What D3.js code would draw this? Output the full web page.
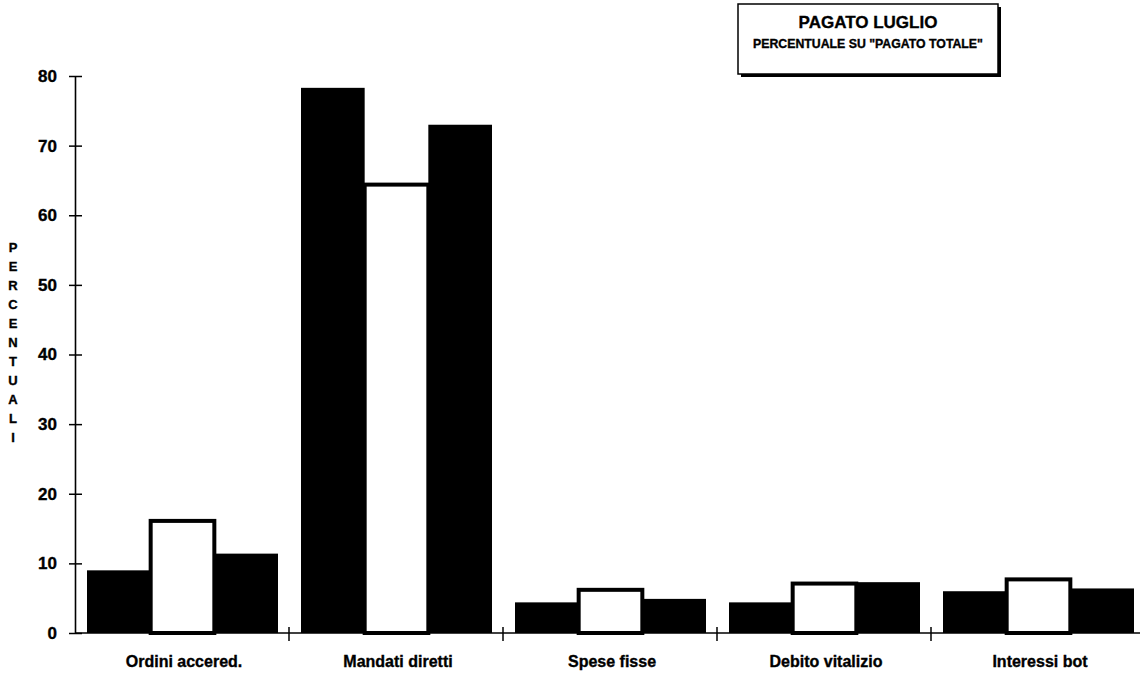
<!DOCTYPE html>
<html>
<head>
<meta charset="utf-8">
<script src="https://cdn.jsdelivr.net/npm/d3@7"></script>
<style>
  html, body { margin: 0; padding: 0; background: #fff; }
  svg { display: block; font-family: "Liberation Sans", Arial, sans-serif; font-weight: bold; }
  svg text { stroke: #000; stroke-width: 0.35px; fill: #000; }
</style>
</head>
<body>
<div id="chart"></div>
<script>
// chart values
const categories = ["Ordini accered.", "Mandati diretti", "Spese fisse", "Debito vitalizio", "Interessi bot"];
const seriesNames = ["a", "b", "c"];
const seriesA = [9.0, 78.3, 4.4, 4.4, 6.0];   // black, left
const seriesB = [16.1, 64.4, 6.2, 7.1, 7.7];  // white, middle
const seriesC = [11.4, 73.0, 4.9, 7.3, 6.4];  // black, right
const yTicks = [0, 10, 20, 30, 40, 50, 60, 70, 80];
const yLabel = "PERCENTUALI";
const title = "PAGATO LUGLIO";
const subtitle = "PERCENTUALE SU \"PAGATO TOTALE\"";

const W = 1140, H = 676;
const svg = d3.select('#chart').append('svg')
    .attr('width', W)
    .attr('height', H);

const x = d3.scaleBand().domain(categories).range([75, 1145]).padding(0);
const xs = d3.scaleBand().domain(seriesNames).range([12, 203]).padding(0);
const y = d3.scaleLinear().domain([0, 80]).range([633, 76]);

const fills = { a: '#000', b: '#fff', c: '#000' };
const rows = categories.map((c, i) => ({ cat: c, a: seriesA[i], b: seriesB[i], c: seriesC[i] }));

// bars: black ones first, then the outlined white one on top
const groups = svg.append('g').attr('class', 'bars')
    .selectAll('g')
    .data(rows)
    .enter().append('g')
    .attr('transform', d => 'translate(' + x(d.cat) + ',0)');

['a', 'c', 'b'].forEach(s => {
    groups.append('rect')
        .attr('x', xs(s))
        .attr('width', xs.bandwidth())
        .attr('y', d => y(d[s]))
        .attr('height', d => y(0) - y(d[s]))
        .style('fill', fills[s])
        .style('stroke', s === 'b' ? '#000' : 'none')
        .style('stroke-width', '4px');
});

// y axis with ticks crossing the line
const yAxis = svg.append('g')
    .attr('transform', 'translate(75,0)')
    .call(d3.axisLeft(y).tickValues(yTicks).tickSizeOuter(0).tickPadding(12));
yAxis.select('.domain').style('stroke', '#000').style('stroke-width', '1.6px');
yAxis.selectAll('.tick line').attr('x1', -6).attr('x2', 7).style('stroke-width', '1.5px');
yAxis.selectAll('.tick text')
    .style('font-size', '17px')
    .style('font-weight', 'bold')
    .style('font-family', '"Liberation Sans", Arial, sans-serif')
    .style('fill', '#000');

// x axis: baseline, ticks at category boundaries, labels under each group
svg.append('line')
    .attr('x1', 75).attr('x2', W)
    .attr('y1', y(0)).attr('y2', y(0))
    .style('stroke', '#000')
    .style('stroke-width', '1.6px');

svg.append('g').attr('class', 'xticks')
    .selectAll('line')
    .data(categories.slice(1))
    .enter().append('line')
    .attr('x1', d => x(d)).attr('x2', d => x(d))
    .attr('y1', y(0) - 6).attr('y2', y(0) + 8)
    .style('stroke', '#000')
    .style('stroke-width', '1.5px');

svg.append('g').attr('class', 'xlabels')
    .selectAll('text')
    .data(categories)
    .enter().append('text')
    .attr('x', d => x(d) + x.bandwidth() / 2 + 2)
    .attr('y', 667)
    .attr('text-anchor', 'middle')
    .style('font-size', '16px')
    .text(d => d);

// stacked vertical axis title
svg.append('g').attr('class', 'ylabel')
    .selectAll('text')
    .data(yLabel.split(''))
    .enter().append('text')
    .attr('x', 13)
    .attr('y', (d, i) => 252 + i * 19)
    .attr('text-anchor', 'middle')
    .style('font-size', '13px')
    .text(d => d);

// title box with drop shadow
const box = svg.append('g').attr('class', 'titlebox');
box.append('rect')
    .attr('x', 741).attr('y', 7)
    .attr('width', 260).attr('height', 70)
    .style('fill', '#000');
box.append('rect')
    .attr('x', 738).attr('y', 4)
    .attr('width', 260).attr('height', 70)
    .style('fill', '#fff')
    .style('stroke', '#000')
    .style('stroke-width', '1.5px');
box.append('text')
    .attr('x', 868).attr('y', 28)
    .attr('text-anchor', 'middle')
    .style('font-size', '17px')
    .text(title);
box.append('text')
    .attr('x', 868).attr('y', 48)
    .attr('text-anchor', 'middle')
    .style('font-size', '12.3px')
    .text(subtitle);
</script>
</body>
</html>
